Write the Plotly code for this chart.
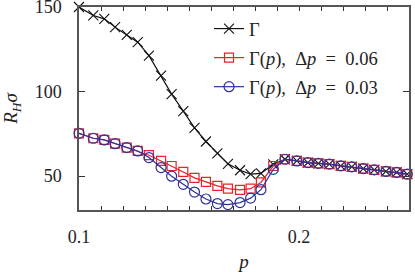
import plotly.graph_objects as go

p_vals = [0.1, 0.1065, 0.1115, 0.1164, 0.1217, 0.1267, 0.1318, 0.1373, 0.1421, 0.1474,
          0.1525, 0.1577, 0.1629, 0.1677, 0.1732, 0.1780, 0.1827, 0.1883, 0.1936, 0.1990,
          0.2040, 0.2088, 0.2138, 0.2190, 0.2240, 0.2292, 0.2342, 0.2395, 0.2444, 0.2492]

gamma = [150, 145, 143, 138.1, 133.5, 129.2, 121.2, 109.4, 98.5, 88.4,
         78.6, 70.5, 63.5, 57.3, 53.5, 51.2, 51.6, 57, 60, 59,
         58, 57.6, 57.1, 56.1, 55.5, 54.5, 53.7, 52.8, 52.2, 51.2]

gamma_p06 = [75.3, 72.4, 71.4, 69.2, 66.9, 64.9, 62.4, 59, 56, 52.5,
             49, 46.6, 44.3, 42.6, 41.9, 42.6, 46.3, 56, 60, 59,
             58, 57.6, 57.1, 56.1, 55.5, 54.5, 53.7, 52.8, 52.2, 51.2]

gamma_p03 = [75.3, 72.4, 71.4, 69.2, 66.9, 64.9, 61, 55.1, 50, 45.2,
             40.6, 36.5, 33.8, 33.2, 34.4, 37, 42, 54, 60, 59,
             58, 57.6, 57.1, 56.1, 55.5, 54.5, 53.7, 52.8, 52.2, 51.2]

series_names = ["Γ",
                "Γ(<i>p</i>),\u2002Δ<i>p</i>\u2002=\u20020.06",
                "Γ(<i>p</i>),\u2002Δ<i>p</i>\u2002=\u20020.03"]

x_tickvals = [0.10, 0.11, 0.12, 0.13, 0.14, 0.15, 0.16, 0.17, 0.18, 0.19,
              0.20, 0.21, 0.22, 0.23, 0.24, 0.25]
x_ticktext = ["0.1", "", "", "", "", "", "", "", "", "",
              "0.2", "", "", "", "", ""]
y_tickvals = [50, 100, 150]

FONT = "Liberation Serif"
BLACK = "#111111"
RED = "#e8232b"
BLUE = "#2f3197"

fig = go.Figure()
fig.add_trace(go.Scatter(
    x=p_vals, y=gamma, mode="lines+markers", name=series_names[0], legendgroup="a",
    line=dict(color=BLACK, width=1.2),
    marker=dict(symbol="x-thin", size=10, line=dict(color=BLACK, width=1.1)),
    cliponaxis=False))
fig.add_trace(go.Scatter(
    x=p_vals, y=gamma_p06, mode="lines+markers", name=series_names[1], legendgroup="b",
    line=dict(color=RED, width=1.2),
    marker=dict(symbol="square-open", size=9, color=RED, line=dict(color=RED, width=1.2)),
    cliponaxis=False))
fig.add_trace(go.Scatter(
    x=p_vals, y=gamma_p03, mode="lines+markers", name=series_names[2], legendgroup="c",
    line=dict(color=BLUE, width=1.2),
    marker=dict(symbol="circle-open", size=10, color=BLUE, line=dict(color=BLUE, width=1.2)),
    cliponaxis=False))

axis_common = dict(showgrid=False, zeroline=False, showline=True, mirror="ticks",
                   linecolor="#555555", linewidth=1.5, ticks="inside", tickcolor="#333333",
                   automargin=False, ticklabeloverflow="allow",
                   tickfont=dict(family=FONT, size=18, color="#222222"))

fig.update_xaxes(range=[0.1, 0.25], tickvals=x_tickvals, ticktext=x_ticktext,
                 ticklen=4, tickwidth=1, ticklabelstandoff=10,
                 title=dict(text="<i>p</i>", font=dict(family=FONT, size=19, color="#222222")),
                 **axis_common)
fig.update_yaxes(range=[30, 150], tickvals=y_tickvals,
                 ticklen=6, tickwidth=1, ticklabelstandoff=12,
                 title=dict(text="<i>R<sub>H</sub>σ</i>", font=dict(family=FONT, size=19, color="#222222")),
                 **axis_common)

fig.update_layout(
    width=415, height=272,
    margin=dict(l=79, r=6, t=7, b=62),
    plot_bgcolor="white", paper_bgcolor="white",
    font=dict(family=FONT, size=18, color="#222222"),
    showlegend=True,
    legend=dict(x=0.394, y=0.985, xanchor="left", yanchor="top",
                bgcolor="rgba(255,255,255,0)", borderwidth=0,
                font=dict(family=FONT, size=18.5, color="#222222"),
                tracegroupgap=2, itemwidth=30),
)

fig.write_html("out.html", config={"displayModeBar": False},
               post_script="document.body.style.margin='0';")
